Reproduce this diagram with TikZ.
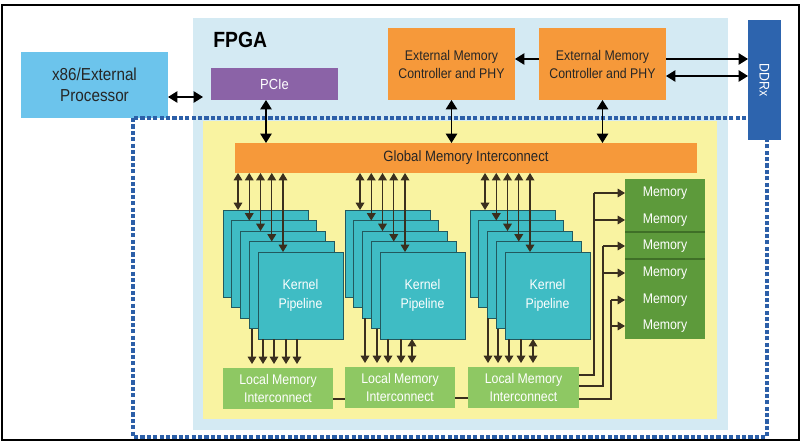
\documentclass[tikz,border=0pt]{standalone}
\usepackage{fontspec}
\setmainfont{Liberation Sans}[FakeStretch=0.88]
\usetikzlibrary{arrows.meta,calc}
\definecolor{fpgabg}{HTML}{D4EAF3}
\definecolor{yel}{HTML}{F9F3A1}
\definecolor{x86c}{HTML}{6CC4EC}
\definecolor{pciec}{HTML}{8B63A7}
\definecolor{orangec}{HTML}{F6993A}
\definecolor{ddrc}{HTML}{2D64AE}
\definecolor{tealc}{HTML}{3FBCC4}
\definecolor{tealdk}{HTML}{22595E}
\definecolor{lmic}{HTML}{8EC863}
\definecolor{memc}{HTML}{5D9A3B}
\definecolor{memdk}{HTML}{3F6F27}
\definecolor{dashc}{HTML}{2C5FA8}
\definecolor{linec}{HTML}{3A2F1E}
\newcommand\boxfont{\fontsize{10.5}{13}\selectfont}
\tikzset{
  box/.style={inner sep=0pt, outer sep=0pt, align=center, anchor=north west, font=\boxfont},
  layer/.style={box, minimum width=85*0.75pt, minimum height=87*0.75pt, fill=tealc, draw=tealdk, line width=0.6pt, text=white, font=\fontsize{10.5}{14}\selectfont},
  lmibox/.style={box, minimum height=41*0.75pt, fill=lmic, text=white, font=\fontsize{10.5}{13}\selectfont},
  bigbi/.style={line width=1.1pt, {Triangle[length=7pt,width=8.5pt]}-{Triangle[length=7pt,width=8.5pt]}},
  bigar/.style={line width=1.1pt, -{Triangle[length=7pt,width=8.5pt]}},
  kar/.style={line width=0.9pt, linec, -{Triangle[length=5.5pt,width=6.5pt]}},
  kbi/.style={line width=0.9pt, linec, {Triangle[length=5.5pt,width=6.5pt]}-{Triangle[length=5.5pt,width=6.5pt]}},
  mline/.style={line width=0.8pt, linec},
  dashbl/.style={draw=dashc, line width=2.6pt, dash pattern=on 3.2pt off 1.6pt}
}
\begin{document}
\begin{tikzpicture}[x=0.75pt,y=-0.75pt]
\useasboundingbox (0,0) rectangle (802,442);
% frame
\draw[line width=1.5pt] (2,5) rectangle (799,440);
% backgrounds
\node[box, minimum width=535*0.75pt, minimum height=412*0.75pt, fill=fpgabg] (fpga) at (193,18) {};
\node[box, minimum width=514*0.75pt, minimum height=298*0.75pt, fill=yel] (core) at (203,121) {};
\node[anchor=base west, inner sep=0pt, font=\fontsize{16.5}{18}\selectfont\bfseries] (fpgat) at (213,48) {FPGA};
% top blocks
\node[box, minimum width=147*0.75pt, minimum height=66*0.75pt, fill=x86c, font=\fontsize{13}{15.5}\selectfont, text=black!85] (x86) at (21,52) {x86/External\\Processor};
\node[box, minimum width=127*0.75pt, minimum height=32*0.75pt, fill=pciec, text=white, font=\fontsize{11}{13}\selectfont] (pcie) at (211,68) {PCIe};
\node[box, minimum width=127*0.75pt, minimum height=72*0.75pt, fill=orangec, text=black!85, font=\fontsize{10.5}{13.5}\selectfont] (emc1) at (388,28) {External Memory\\Controller and PHY};
\node[box, minimum width=127*0.75pt, minimum height=72*0.75pt, fill=orangec, text=black!85, font=\fontsize{10.5}{13.5}\selectfont] (emc2) at (539,28) {External Memory\\Controller and PHY};
% dashed boundary
\draw[dashbl] (133,118) rectangle (767,437);
\node[box, minimum width=33*0.75pt, minimum height=120*0.75pt, fill=ddrc] (ddr) at (748,20) {};
\node[rotate=-90, text=white, font=\fontsize{10.5}{12}\selectfont, inner sep=0pt] (ddrt) at (ddr.center) {DDRx};
% global memory interconnect
\node[box, minimum width=462*0.75pt, minimum height=30*0.75pt, fill=orangec, text=black!85, font=\fontsize{11.2}{13}\selectfont] (gmi) at (235,143) {Global Memory Interconnect};
% kernel stacks
\foreach \s/\L in {1/223,2/345,3/470} {
  \foreach \k in {0,...,3} {
    \node[layer] (k\s\k) at ({\L+8.75*\k},{210+10.5*\k}) {};
  }
  \node[layer] (k\s4) at ({\L+35},252) {Kernel\\Pipeline};
  \foreach \k in {0,...,4} {
    \coordinate (a) at ($(k\s\k.north west)+({15+2.5*\k},0)$);
    \draw[kbi] (gmi.south -| a) -- (a);
  }
}
% local memory interconnects
\node[lmibox, minimum width=110*0.75pt] (lmi1) at (223,368) {Local Memory\\Interconnect};
\node[lmibox, minimum width=110*0.75pt] (lmi2) at (345,367) {Local Memory\\Interconnect};
\node[lmibox, minimum width=111*0.75pt] (lmi3) at (468,367) {Local Memory\\Interconnect};
% kernel -> local memory arrows
\foreach \l/\x in {3/252,4/263,4/274,4/286,4/297} {
  \coordinate (b) at (\x,0);
  \draw[kar, shorten >=3pt] (k1\l.south -| b) -- (lmi1.north -| b);
}
\foreach \l/\x in {2/365,3/377,4/388,4/401} {
  \coordinate (b) at (\x,0);
  \draw[kar, shorten >=3pt] (k2\l.south -| b) -- (lmi2.north -| b);
}
\coordinate (b) at (412,0);
\draw[kbi, shorten >=3pt] (k24.south -| b) -- (lmi2.north -| b);
\foreach \l/\x in {2/488,3/498,4/509,4/521} {
  \coordinate (b) at (\x,0);
  \draw[kar, shorten >=3pt] (k3\l.south -| b) -- (lmi3.north -| b);
}
\coordinate (b) at (533,0);
\draw[kbi, shorten >=3pt] (k34.south -| b) -- (lmi3.north -| b);
% links between local memory interconnects
\coordinate (c1) at (0,399);
\draw[mline] (lmi1.east |- c1) -- (lmi2.west |- c1);
\coordinate (c2) at (0,398);
\draw[mline] (lmi2.east |- c2) -- (lmi3.west |- c2);
% memory block
\node[box, minimum width=80*0.75pt, minimum height=160*0.75pt, fill=memc] (mem) at (625,179) {};
\draw[memdk, line width=0.8pt] (625,232) -- (705,232);
\draw[memdk, line width=0.8pt] (625,259) -- (705,259);
\foreach \i/\y in {1/193,2/220,3/246,4/273,5/300,6/326} {
  \node[text=white, inner sep=0pt, font=\fontsize{10.5}{12}\selectfont] (m\i) at (665,\y) {Memory};
}
% routing from local memory interconnect 3 to memories
\coordinate (r1) at (594,375);
\coordinate (r2) at (603,386);
\coordinate (r3) at (611,399);
\draw[mline] (lmi3.east |- r1) -- (r1) -- (r1 |- m1);
\draw[mline] (lmi3.east |- r2) -- (r2) -- (r2 |- m3);
\draw[mline] (lmi3.east |- r3) -- (r3) -- (r3 |- m5);
\draw[kar] (r1 |- m1) -- (mem.west |- m1);
\draw[kar] (r1 |- m2) -- (mem.west |- m2);
\draw[kar] (r2 |- m3) -- (mem.west |- m3);
\draw[kar] (r2 |- m4) -- (mem.west |- m4);
\draw[kar] (r3 |- m5) -- (mem.west |- m5);
\draw[kar] (r3 |- m6) -- (mem.west |- m6);
% top-level arrows
\coordinate (h1) at (0,97);
\draw[bigbi, shorten >=6pt] (x86.east |- h1) -- (pcie.west |- h1);
\coordinate (v1) at (266,0);
\draw[bigbi] (pcie.south -| v1) -- (gmi.north -| v1);
\draw[bigbi] (emc1.south) -- (emc1.south |- gmi.north);
\draw[bigbi] (emc2.south) -- (emc2.south |- gmi.north);
\coordinate (h2) at (0,59);
\draw[bigar] (emc2.west |- h2) -- (emc1.east |- h2);
\draw[bigar] (emc2.east |- h2) -- (ddr.west |- h2);
\coordinate (h3) at (0,76);
\draw[bigbi] (emc2.east |- h3) -- (ddr.west |- h3);
\end{tikzpicture}
\end{document}
